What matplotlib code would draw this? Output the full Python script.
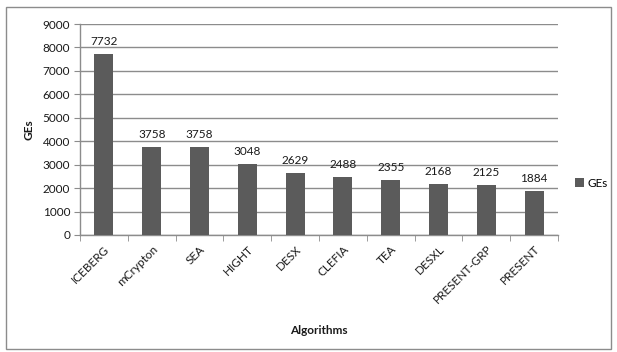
import numpy as np
import matplotlib.pyplot as plt
from matplotlib.patches import Rectangle

# --- Gate-equivalent counts per cipher ---
algorithms = ["ICEBERG", "mCrypton", "SEA", "HIGHT", "DESX",
              "CLEFIA", "TEA", "DESXL", "PRESENT-GRP", "PRESENT"]
ges = [7732, 3758, 3758, 3048, 2629, 2488, 2355, 2168, 2125, 1884]

BAR_COLOR = "#5b5b5b"
GRID_COLOR = "#8c8c8c"
AXIS_COLOR = "#8c8c8c"
TEXT_COLOR = "#1a1a1a"

plt.rcParams['font.family'] = ['Lato', 'DejaVu Sans']

fig = plt.figure(figsize=(6.17, 3.52), dpi=100)
ax = fig.add_axes([0.1297, 0.3324, 0.7747, 0.5994])

x = np.arange(len(algorithms))
bars = ax.bar(x, ges, width=0.4, color=BAR_COLOR, zorder=3, label="GEs")

for xi, v in zip(x, ges):
    ax.annotate(str(v), (xi, v), xytext=(0, 5), textcoords="offset points",
                ha="center", va="bottom", fontsize=8.5, color=TEXT_COLOR)

ax.set_xlim(-0.5, len(algorithms) - 0.5)
ax.set_ylim(0, 9000)
ax.set_yticks(np.arange(0, 9001, 1000))
ax.yaxis.grid(True, color=GRID_COLOR, linewidth=1.0, zorder=0)
ax.set_axisbelow(True)

# category labels sit under the bars, tick marks between categories
ax.set_xticks(x)
ax.set_xticklabels(algorithms, rotation=45, ha="right", rotation_mode="anchor",
                   fontsize=8.5, color=TEXT_COLOR)
ax.tick_params(axis="x", which="major", length=0, pad=6)
ax.set_xticks(np.arange(-0.5, len(algorithms), 1.0), minor=True)
ax.tick_params(axis="x", which="minor", length=4, color=AXIS_COLOR, direction="out")
ax.tick_params(axis="y", length=4, color=AXIS_COLOR, labelsize=8.5,
               labelcolor=TEXT_COLOR, pad=3)

for side in ("top", "right"):
    ax.spines[side].set_visible(False)
for side in ("left", "bottom"):
    ax.spines[side].set_color(AXIS_COLOR)
    ax.spines[side].set_linewidth(1.0)

ax.set_ylabel("GEs", fontsize=8.5, fontweight="bold", color=TEXT_COLOR, labelpad=6)
fig.text(0.517, 0.062, "Algorithms", ha="center", va="center",
         fontsize=8.5, fontweight="bold", color=TEXT_COLOR)

fig.legend(handles=[bars], labels=["GEs"], loc="center left",
           bbox_to_anchor=(0.925, 0.48), frameon=False, fontsize=8.5,
           handlelength=0.7, handleheight=0.7, handletextpad=0.3,
           borderaxespad=0)

# outer chart frame
fig.patches.append(Rectangle((0.0097, 0.009), 0.9806, 0.971, transform=fig.transFigure,
                             fill=False, edgecolor="#8c8c8c", linewidth=1.0))

fig.savefig("out.png", dpi=100)
